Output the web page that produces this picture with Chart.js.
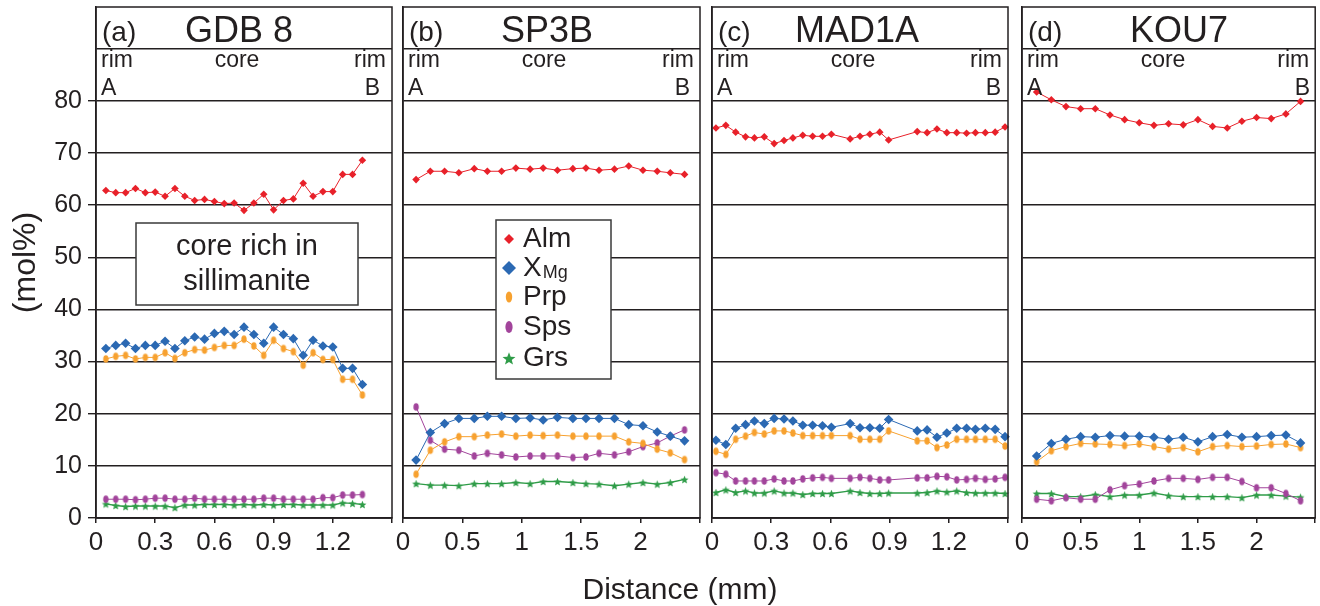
<!DOCTYPE html>
<html>
<head>
<meta charset="utf-8">
<title>Garnet profiles</title>
<script src="https://cdn.jsdelivr.net/npm/chart.js@4.4.1/dist/chart.umd.min.js"></script>
<style>
  html, body { margin: 0; padding: 0; background: #fff; }
  #wrap { position: relative; width: 1320px; height: 606px; overflow: hidden; }
  .panel { position: absolute; top: 0; height: 606px; }
  #xTitle {
    position: absolute; left: 480px; width: 400px; top: 574px; line-height: 30px;
    text-align: center; font-size: 30px; color: #231f20;
    font-family: "Liberation Sans", Arial, Helvetica, sans-serif;
  }
</style>
</head>
<body>
<div id="wrap">
  <div class="panel" style="left:0;width:400px"><canvas id="chartA"></canvas></div>
  <div class="panel" style="left:386px;width:320px"><canvas id="chartB"></canvas></div>
  <div class="panel" style="left:695px;width:321px"><canvas id="chartC"></canvas></div>
  <div class="panel" style="left:1005px;width:315px"><canvas id="chartD"></canvas></div>
  <div id="xTitle">Distance (mm)</div>
</div>
<script>
// ---- data (mol%) ----
const SERIES_NAMES = ['Alm', 'XMg', 'Prp', 'Sps', 'Grs'];

// (a) GDB 8
const A_DIST = [0.05, 0.10, 0.15, 0.20, 0.25, 0.30, 0.35, 0.40, 0.45, 0.50, 0.55, 0.60, 0.65, 0.70,
  0.75, 0.80, 0.85, 0.90, 0.95, 1.00, 1.05, 1.10, 1.15, 1.20, 1.25, 1.30, 1.35];
const A_ALM = [62.8, 62.4, 62.4, 63.2, 62.4, 62.5, 61.7, 63.2, 61.7, 60.9, 61.1, 60.7, 60.3, 60.4,
  59.0, 60.4, 62.1, 59.1, 60.9, 61.2, 64.2, 61.7, 62.6, 62.6, 65.9, 65.9, 68.6];
const A_XMG = [32.5, 33.1, 33.5, 32.5, 33.1, 33.1, 33.9, 32.5, 34.0, 34.7, 34.3, 35.4, 35.8, 35.2,
  36.6, 35.2, 33.5, 36.6, 35.2, 34.4, 31.2, 34.1, 33.0, 32.8, 28.7, 28.7, 25.6];
const A_PRP = [30.5, 31.0, 31.2, 30.5, 30.8, 30.8, 31.7, 30.6, 31.7, 32.3, 32.2, 32.7, 33.1, 33.1,
  34.3, 33.0, 31.2, 34.1, 32.5, 31.9, 29.3, 31.7, 30.4, 30.4, 26.6, 26.6, 23.6];
const A_SPS = [3.6, 3.6, 3.6, 3.5, 3.6, 3.8, 3.8, 3.6, 3.6, 3.8, 3.6, 3.6, 3.6, 3.6,
  3.6, 3.6, 3.8, 3.8, 3.6, 3.6, 3.6, 3.6, 3.9, 3.9, 4.4, 4.4, 4.5];
const A_GRS = [2.7, 2.4, 2.2, 2.3, 2.3, 2.3, 2.3, 2.0, 2.5, 2.5, 2.6, 2.6, 2.6, 2.5,
  2.6, 2.5, 2.6, 2.5, 2.6, 2.6, 2.5, 2.5, 2.5, 2.5, 2.9, 2.8, 2.6];

// (b) SP3B
const B_DIST = [0.11, 0.23, 0.35, 0.47, 0.60, 0.71, 0.83, 0.95, 1.07, 1.18, 1.30, 1.43, 1.54, 1.65,
  1.78, 1.90, 2.02, 2.14, 2.25, 2.37];
const B_ALM = [64.9, 66.5, 66.5, 66.2, 67.0, 66.5, 66.5, 67.1, 66.9, 67.1, 66.7, 67.0, 67.1, 66.7,
  66.9, 67.5, 66.7, 66.5, 66.2, 65.9];
const B_XMG = [11.1, 16.4, 18.1, 19.1, 19.1, 19.5, 19.5, 19.1, 19.2, 18.8, 19.3, 19.1, 19.1, 19.1,
  19.1, 17.9, 17.7, 16.5, 15.7, 14.8];
const B_PRP = [8.4, 13.0, 14.6, 15.6, 15.6, 15.9, 16.1, 15.7, 15.9, 15.8, 15.9, 15.7, 15.7, 15.7,
  15.7, 14.6, 14.3, 13.2, 12.5, 11.2];
const B_SPS = [21.3, 14.9, 13.2, 13.0, 11.9, 12.4, 12.1, 11.7, 11.9, 11.9, 11.9, 11.6, 11.7, 12.4,
  12.1, 12.7, 13.7, 14.4, 15.7, 16.9];
const B_GRS = [6.6, 6.3, 6.3, 6.2, 6.6, 6.6, 6.6, 6.8, 6.6, 7.0, 7.0, 6.8, 6.6, 6.5,
  6.2, 6.5, 6.8, 6.5, 6.8, 7.4];

// (c) MAD1A
const C_DIST = [0.02, 0.07, 0.12, 0.17, 0.215, 0.265, 0.315, 0.365, 0.41, 0.46, 0.51, 0.56, 0.605,
  0.70, 0.75, 0.80, 0.85, 0.895, 1.04, 1.09, 1.14, 1.19, 1.24, 1.29, 1.335, 1.385, 1.435, 1.485];
const C_ALM = [74.8, 75.3, 74.0, 73.1, 72.9, 73.1, 71.8, 72.4, 72.9, 73.4, 73.2, 73.2, 73.6,
  72.7, 73.2, 73.6, 74.0, 72.5, 74.1, 73.9, 74.6, 73.9, 73.9, 73.8, 73.9, 73.9, 74.0, 75.0];
const C_XMG = [14.9, 14.1, 17.2, 17.9, 18.6, 18.1, 19.1, 19.0, 18.6, 17.8, 17.8, 17.7, 17.4,
  18.1, 17.3, 17.3, 17.2, 18.9, 16.7, 16.9, 15.5, 16.3, 17.2, 17.2, 17.0, 17.2, 17.0, 15.6];
const C_PRP = [12.8, 12.2, 15.1, 15.7, 16.4, 16.1, 16.7, 16.7, 16.3, 15.8, 15.8, 15.8, 15.8,
  15.8, 15.1, 15.1, 15.1, 16.7, 14.8, 14.8, 13.5, 14.0, 15.1, 15.1, 15.1, 15.1, 15.1, 13.8];
const C_SPS = [8.7, 8.4, 7.1, 7.1, 7.1, 7.1, 7.5, 7.1, 7.1, 7.5, 7.7, 7.8, 7.6,
  7.6, 7.8, 7.6, 7.3, 7.3, 7.7, 7.7, 8.0, 7.9, 7.3, 7.4, 7.6, 7.4, 7.5, 7.8];
const C_GRS = [4.9, 5.4, 4.9, 5.2, 4.8, 4.8, 5.2, 4.8, 4.8, 4.5, 4.7, 4.7, 4.7,
  5.2, 4.9, 4.7, 4.7, 4.8, 4.8, 4.9, 5.2, 5.0, 5.2, 4.9, 4.8, 4.8, 4.8, 4.7];

// (d) KOU7
const D_DIST = [0.125, 0.25, 0.375, 0.5, 0.625, 0.75, 0.875, 1.0, 1.125, 1.25, 1.375, 1.5, 1.625,
  1.75, 1.875, 2.0, 2.125, 2.25, 2.375];
const D_ALM = [81.7, 80.2, 78.9, 78.5, 78.5, 77.3, 76.4, 75.8, 75.3, 75.6, 75.4, 76.4, 75.1,
  74.8, 76.1, 76.8, 76.6, 77.5, 79.9];
const D_XMG = [11.9, 14.3, 15.1, 15.6, 15.5, 15.8, 15.7, 15.7, 15.5, 15.1, 15.5, 14.6, 15.6,
  16.0, 15.5, 15.6, 15.8, 15.9, 14.4];
const D_PRP = [10.8, 12.9, 13.7, 14.3, 14.2, 14.1, 13.9, 14.2, 13.7, 13.2, 13.5, 12.7, 13.7,
  13.9, 13.7, 13.8, 14.1, 14.2, 13.5];
const D_SPS = [3.6, 3.3, 3.9, 3.6, 3.6, 5.4, 6.2, 6.5, 7.1, 7.6, 7.6, 7.4, 7.8,
  7.8, 7.0, 5.8, 5.8, 4.7, 3.3];
const D_GRS = [4.7, 4.7, 4.1, 4.1, 4.5, 4.1, 4.4, 4.4, 4.8, 4.3, 4.1, 4.1, 4.1,
  4.1, 3.9, 4.4, 4.4, 4.2, 4.0];

// ---- axes ----
const Y_TICKS = [0, 10, 20, 30, 40, 50, 60, 70, 80, 90];
const Y_LABELS = ['0', '10', '20', '30', '40', '50', '60', '70', '80', ''];
const X_TICKS_SHORT = [0, 0.3, 0.6, 0.9, 1.2, 1.5];
const X_LABELS_SHORT = ['0', '0.3', '0.6', '0.9', '1.2', ''];
const X_TICKS_LONG = [0, 0.5, 1, 1.5, 2, 2.5];
const X_LABELS_LONG = ['0', '0.5', '1', '1.5', '2', ''];
const Y_TITLE = '(mol%)';
const NOTE_LINES = ['core rich in', 'sillimanite'];

// ---- look ----
const INK = '#231f20';
const FONT = '"Liberation Sans", Arial, Helvetica, sans-serif';
const COLORS = ['#e8212a', '#2b69b3', '#f7a12f', '#a2449b', '#2f9c48'];

function ellipseMarker(rx, ry, color) {
  const c = document.createElement('canvas');
  c.width = Math.ceil(rx * 2 + 2);
  c.height = Math.ceil(ry * 2 + 2);
  const g = c.getContext('2d');
  g.fillStyle = color;
  g.beginPath();
  g.ellipse(c.width / 2, c.height / 2, rx, ry, 0, 0, Math.PI * 2);
  g.fill();
  return c;
}

function starPath(g, cx, cy, R, r) {
  g.beginPath();
  for (let i = 0; i < 10; i++) {
    const ang = -Math.PI / 2 + i * Math.PI / 5;
    const rad = i % 2 ? r : R;
    g.lineTo(cx + rad * Math.cos(ang), cy + rad * Math.sin(ang));
  }
  g.closePath();
}

function starMarker(R, r, color) {
  const c = document.createElement('canvas');
  c.width = Math.ceil(R * 2 + 2);
  c.height = Math.ceil(R * 2 + 2);
  const g = c.getContext('2d');
  g.fillStyle = color;
  starPath(g, c.width / 2, c.height / 2 + 0.5, R, r);
  g.fill();
  return c;
}

const POINT_STYLES = [
  { pointStyle: 'rectRot', pointRadius: 3.8, lineWidth: 1 },
  { pointStyle: 'rectRot', pointRadius: 4.8, lineWidth: 1 },
  { pointStyle: ellipseMarker(2.7, 3.8, COLORS[2]), pointRadius: 4, lineWidth: 1 },
  { pointStyle: ellipseMarker(2.7, 3.8, COLORS[3]), pointRadius: 4, lineWidth: 1 },
  { pointStyle: starMarker(4.2, 1.9, COLORS[4]), pointRadius: 4, lineWidth: 1.4 },
];

const PANELS = [
  { canvas: 'chartA', letter: '(a)', name: 'GDB 8', xMax: 1.5, ticks: X_TICKS_SHORT, labels: X_LABELS_SHORT,
    dist: A_DIST, values: [A_ALM, A_XMG, A_PRP, A_SPS, A_GRS] },
  { canvas: 'chartB', letter: '(b)', name: 'SP3B', xMax: 2.5, ticks: X_TICKS_LONG, labels: X_LABELS_LONG,
    dist: B_DIST, values: [B_ALM, B_XMG, B_PRP, B_SPS, B_GRS] },
  { canvas: 'chartC', letter: '(c)', name: 'MAD1A', xMax: 1.5, ticks: X_TICKS_SHORT, labels: X_LABELS_SHORT,
    dist: C_DIST, values: [C_ALM, C_XMG, C_PRP, C_SPS, C_GRS] },
  { canvas: 'chartD', letter: '(d)', name: 'KOU7', xMax: 2.5, ticks: X_TICKS_LONG, labels: X_LABELS_LONG,
    dist: D_DIST, values: [D_ALM, D_XMG, D_PRP, D_SPS, D_GRS] },
];

// pixel layout of each canvas / plot box
const LAYOUT = [
  { yWidth: 96, padRight: 8, nameDx: 143, bDx: 12, yAxis: true, note: true },
  { yWidth: 17, padRight: 6, nameDx: 144, bDx: 10, legend: true },
  { yWidth: 17, padRight: 8, nameDx: 145, bDx: 7 },
  { yWidth: 17, padRight: 2, nameDx: 157, bDx: 5 },
];

function drawLegendMarker(ctx, i, x, y) {
  ctx.fillStyle = COLORS[i];
  ctx.beginPath();
  if (i === 0 || i === 1) {
    const r = i === 0 ? 5 : 7;
    ctx.moveTo(x, y - r); ctx.lineTo(x + r, y); ctx.lineTo(x, y + r); ctx.lineTo(x - r, y);
    ctx.closePath();
  } else if (i === 2) {
    ctx.ellipse(x, y, 3.2, 5.5, 0, 0, Math.PI * 2);
  } else if (i === 3) {
    ctx.ellipse(x, y, 3.6, 6, 0, 0, Math.PI * 2);
  } else {
    starPath(ctx, x, y + 1, 6.8, 2.9);
  }
  ctx.fill();
}

function makeDeco(p, lay) {
  return {
    id: 'deco',
    afterDraw(chart) {
      const { ctx, chartArea: a } = chart;
      ctx.save();
      ctx.strokeStyle = INK;
      ctx.lineWidth = 1.5;
      ctx.strokeRect(a.left, a.top, a.right - a.left, a.bottom - a.top);

      ctx.fillStyle = INK;
      ctx.textBaseline = 'alphabetic';
      ctx.font = `28px ${FONT}`;
      ctx.textAlign = 'left';
      ctx.fillText(p.letter, a.left + 6, 41);
      ctx.font = `36px ${FONT}`;
      ctx.textAlign = 'center';
      ctx.fillText(p.name, a.left + lay.nameDx, 42);

      ctx.font = `23px ${FONT}`;
      ctx.textAlign = 'left';
      ctx.fillText('rim', a.left + 5, 67);
      ctx.fillText('A', a.left + 5, 95);
      ctx.textAlign = 'center';
      ctx.fillText('core', a.left + 141, 67);
      ctx.textAlign = 'right';
      ctx.fillText('rim', a.right - 6, 67);
      ctx.fillText('B', a.right - lay.bDx, 95);

      if (lay.note) {
        const bx = a.left + 40, by = 223, bw = 222, bh = 82;
        ctx.fillStyle = '#fff';
        ctx.fillRect(bx, by, bw, bh);
        ctx.strokeStyle = '#3a3a3a';
        ctx.lineWidth = 1.5;
        ctx.strokeRect(bx, by, bw, bh);
        ctx.fillStyle = INK;
        ctx.font = `29px ${FONT}`;
        ctx.textAlign = 'center';
        ctx.fillText(NOTE_LINES[0], bx + bw / 2, 255);
        ctx.fillText(NOTE_LINES[1], bx + bw / 2, 290);
      }

      if (lay.legend) {
        const bx = a.left + 93, by = 220, bw = 115, bh = 159;
        ctx.fillStyle = '#fff';
        ctx.fillRect(bx, by, bw, bh);
        ctx.strokeStyle = '#3a3a3a';
        ctx.lineWidth = 1.5;
        ctx.strokeRect(bx, by, bw, bh);
        const rows = [239, 268, 297, 327, 358];
        SERIES_NAMES.forEach((nm, i) => {
          const y = rows[i];
          drawLegendMarker(ctx, i, bx + 13, y);
          ctx.fillStyle = INK;
          ctx.textAlign = 'left';
          ctx.font = `28px ${FONT}`;
          if (nm === 'XMg') {
            ctx.fillText('X', bx + 27, y + 8);
            const w = ctx.measureText('X').width;
            ctx.font = `18px ${FONT}`;
            ctx.fillText('Mg', bx + 28 + w, y + 10);
          } else {
            ctx.fillText(nm, bx + 27, y + 8);
          }
        });
      }
      ctx.restore();
    },
  };
}

PANELS.forEach((p, k) => {
  const lay = LAYOUT[k];
  const datasets = SERIES_NAMES.map((nm, i) => ({
    label: nm,
    data: p.dist.map((x, j) => ({ x, y: p.values[i][j] })),
    borderColor: COLORS[i],
    backgroundColor: COLORS[i],
    borderWidth: POINT_STYLES[i].lineWidth,
    pointStyle: POINT_STYLES[i].pointStyle,
    pointRadius: POINT_STYLES[i].pointRadius,
    pointBorderWidth: 0,
    tension: 0,
    clip: 8,
  }));

  new Chart(document.getElementById(p.canvas), {
    type: 'line',
    data: { datasets },
    plugins: [makeDeco(p, lay)],
    options: {
      responsive: true,
      maintainAspectRatio: false,
      animation: false,
      events: [],
      layout: { padding: { top: 7, right: lay.padRight, left: 0, bottom: 0 } },
      plugins: { legend: { display: false }, tooltip: { enabled: false } },
      scales: {
        x: {
          type: 'linear',
          min: 0,
          max: p.xMax,
          afterBuildTicks: (s) => { s.ticks = p.ticks.map((v) => ({ value: v })); },
          afterFit: (s) => { s.height = 88; s.paddingLeft = 0; s.paddingRight = 0; },
          ticks: {
            autoSkip: false,
            maxRotation: 0,
            padding: 4,
            color: INK,
            font: { family: FONT, size: 26 },
            callback: (v, i) => p.labels[i],
          },
          grid: { drawOnChartArea: false, drawTicks: true, tickLength: 5, color: INK, lineWidth: 1.5 },
          border: { display: true, color: INK, width: 1.5 },
        },
        y: {
          type: 'linear',
          min: 0,
          max: 98,
          afterBuildTicks: (s) => { s.ticks = Y_TICKS.map((v) => ({ value: v })); },
          afterFit: (s) => { s.width = lay.yWidth; s.paddingTop = 0; s.paddingBottom = 0; },
          ticks: {
            display: !!lay.yAxis,
            padding: 6,
            color: INK,
            font: { family: FONT, size: 25 },
            callback: (v, i) => Y_LABELS[i],
          },
          title: {
            display: !!lay.yAxis,
            text: Y_TITLE,
            color: INK,
            font: { family: FONT, size: 32 },
            padding: { top: 7, bottom: 0 },
          },
          grid: {
            drawOnChartArea: true,
            drawTicks: !!lay.yAxis,
            tickLength: 8,
            color: INK,
            tickColor: (c) => (c.tick && Y_LABELS[c.index] === '' ? 'rgba(0,0,0,0)' : INK),
            lineWidth: 1.4,
          },
          border: { display: true, color: INK, width: 1.5 },
        },
      },
    },
  });
});
</script>
</body>
</html>
